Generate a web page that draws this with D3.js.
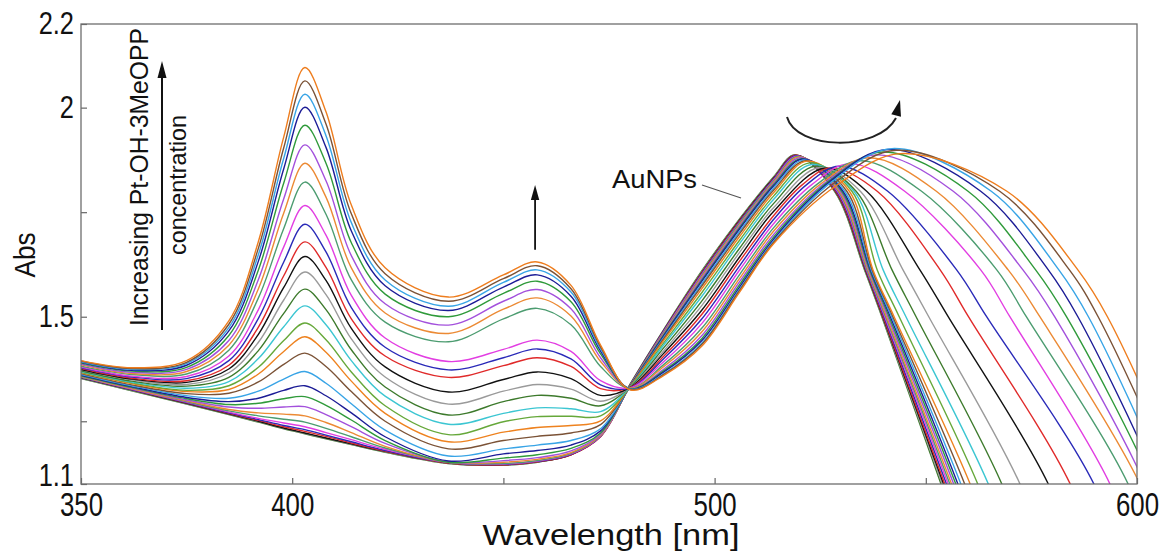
<!DOCTYPE html>
<html>
<head>
<meta charset="utf-8">
<script src="https://cdn.jsdelivr.net/npm/d3@7"></script>
<style>
  html, body { margin: 0; padding: 0; background: #fff; }
  svg { display: block; }
  text { font-family: "Liberation Sans", Arial, sans-serif; fill: #111; }
</style>
</head>
<body>
<svg id="chart" width="1163" height="552"></svg>
<script>
// ---- Data: 30 spectra, first = AuNPs alone, last = highest Pt-OH-3MeOPP ----
// Soret / Q-band part, read at fixed wavelengths
const waveLeft = [350, 362, 375, 385, 392, 398, 403, 408, 414, 422, 437, 450, 458, 466, 473, 480];
const absLeft = [
  [1.352,1.323,1.291,1.266,1.248,1.232,1.220,1.208,1.194,1.176,1.149,1.145,1.152,1.171,1.216,1.339],
  [1.353,1.324,1.292,1.267,1.249,1.233,1.221,1.209,1.195,1.177,1.149,1.145,1.152,1.170,1.215,1.338],
  [1.354,1.325,1.293,1.268,1.250,1.234,1.222,1.210,1.196,1.178,1.150,1.146,1.153,1.170,1.214,1.337],
  [1.355,1.326,1.294,1.269,1.252,1.237,1.226,1.214,1.198,1.179,1.150,1.146,1.153,1.170,1.213,1.336],
  [1.355,1.326,1.295,1.270,1.254,1.240,1.230,1.217,1.201,1.180,1.151,1.147,1.154,1.171,1.214,1.336],
  [1.356,1.327,1.296,1.272,1.257,1.246,1.237,1.223,1.206,1.183,1.152,1.148,1.155,1.172,1.215,1.335],
  [1.356,1.328,1.297,1.275,1.263,1.255,1.248,1.233,1.213,1.186,1.152,1.149,1.156,1.173,1.216,1.335],
  [1.357,1.328,1.299,1.278,1.270,1.267,1.263,1.247,1.223,1.190,1.152,1.152,1.159,1.175,1.217,1.335],
  [1.358,1.330,1.301,1.284,1.281,1.284,1.285,1.266,1.237,1.197,1.152,1.156,1.163,1.179,1.219,1.334],
  [1.359,1.331,1.304,1.290,1.293,1.304,1.309,1.288,1.253,1.204,1.152,1.162,1.170,1.185,1.222,1.334],
  [1.360,1.333,1.307,1.297,1.305,1.324,1.335,1.311,1.270,1.213,1.155,1.172,1.180,1.193,1.227,1.334],
  [1.362,1.335,1.311,1.305,1.322,1.351,1.369,1.341,1.292,1.229,1.167,1.184,1.193,1.204,1.232,1.333],
  [1.364,1.337,1.316,1.317,1.344,1.386,1.413,1.381,1.321,1.250,1.184,1.204,1.214,1.222,1.242,1.333],
  [1.366,1.340,1.321,1.326,1.363,1.417,1.452,1.415,1.346,1.269,1.201,1.224,1.235,1.240,1.251,1.333],
  [1.367,1.342,1.324,1.335,1.379,1.443,1.485,1.445,1.368,1.287,1.218,1.249,1.261,1.262,1.263,1.332],
  [1.369,1.344,1.329,1.345,1.400,1.476,1.526,1.481,1.395,1.310,1.243,1.269,1.282,1.280,1.273,1.332],
  [1.371,1.346,1.334,1.355,1.419,1.508,1.566,1.517,1.421,1.332,1.265,1.297,1.312,1.305,1.287,1.332],
  [1.373,1.349,1.338,1.366,1.439,1.540,1.607,1.553,1.447,1.356,1.291,1.322,1.338,1.327,1.298,1.331],
  [1.374,1.351,1.343,1.375,1.458,1.570,1.644,1.587,1.472,1.380,1.320,1.350,1.368,1.352,1.312,1.331],
  [1.376,1.353,1.347,1.384,1.475,1.598,1.679,1.618,1.495,1.406,1.355,1.383,1.402,1.381,1.328,1.331],
  [1.378,1.356,1.352,1.395,1.496,1.631,1.721,1.655,1.522,1.427,1.373,1.402,1.423,1.399,1.337,1.330],
  [1.380,1.358,1.357,1.406,1.517,1.667,1.766,1.695,1.551,1.449,1.393,1.422,1.444,1.417,1.347,1.330],
  [1.382,1.362,1.363,1.420,1.545,1.711,1.822,1.745,1.588,1.487,1.440,1.495,1.520,1.481,1.381,1.329],
  [1.385,1.364,1.369,1.432,1.567,1.748,1.867,1.786,1.617,1.509,1.460,1.518,1.545,1.502,1.393,1.329],
  [1.387,1.367,1.374,1.443,1.589,1.782,1.911,1.825,1.646,1.531,1.480,1.537,1.565,1.519,1.402,1.328],
  [1.389,1.370,1.379,1.455,1.612,1.820,1.958,1.867,1.677,1.554,1.500,1.556,1.585,1.536,1.411,1.328],
  [1.391,1.372,1.384,1.466,1.633,1.854,2.001,1.905,1.705,1.574,1.515,1.571,1.600,1.549,1.418,1.327],
  [1.392,1.374,1.388,1.474,1.649,1.879,2.032,1.933,1.725,1.588,1.525,1.582,1.612,1.559,1.423,1.327],
  [1.394,1.376,1.391,1.482,1.664,1.904,2.064,1.961,1.746,1.603,1.537,1.591,1.622,1.567,1.428,1.326],
  [1.395,1.378,1.395,1.490,1.680,1.930,2.096,1.990,1.767,1.617,1.547,1.600,1.631,1.575,1.432,1.325]
];

// rising side of the AuNP plasmon band
const waveSlope = [488, 497, 506, 514];
const absSlope = [
  [1.470,1.610,1.735,1.835], [1.469,1.608,1.733,1.833], [1.468,1.606,1.732,1.832],
  [1.467,1.605,1.730,1.830], [1.466,1.603,1.728,1.829], [1.465,1.601,1.726,1.827],
  [1.463,1.599,1.725,1.825], [1.461,1.596,1.721,1.822], [1.459,1.592,1.718,1.819],
  [1.457,1.588,1.714,1.816], [1.455,1.585,1.711,1.813], [1.451,1.579,1.705,1.808],
  [1.448,1.574,1.700,1.803], [1.444,1.567,1.693,1.797], [1.438,1.558,1.684,1.789],
  [1.433,1.549,1.676,1.781], [1.426,1.538,1.665,1.771], [1.419,1.527,1.655,1.761],
  [1.413,1.516,1.644,1.752], [1.406,1.506,1.634,1.742], [1.400,1.495,1.623,1.733],
  [1.393,1.484,1.613,1.723], [1.386,1.473,1.602,1.713], [1.381,1.464,1.593,1.705],
  [1.375,1.455,1.585,1.697], [1.371,1.448,1.578,1.691], [1.368,1.443,1.572,1.686],
  [1.364,1.437,1.567,1.681], [1.362,1.434,1.564,1.678], [1.360,1.430,1.560,1.675]
];

// extra point below the plasmon maximum (only where the band is red-shifted)
const sprShoulder = [
  null, null, null, null, null, null, null, null, null, null, null, null, null, null, null,
  null, null, null, null,
  [520.8,1.816], [521.8,1.816], [523.0,1.816], [524.3,1.817], [525.3,1.819], [526.2,1.821],
  [526.9,1.823], [527.5,1.825], [528.0,1.825], [528.5,1.821], [529.0,1.815]
];

// plasmon maximum [nm, Abs]
const sprPeak = [
  [519.0,1.887], [519.1,1.887], [519.2,1.886], [519.3,1.886], [519.4,1.885], [519.6,1.884],
  [519.8,1.883], [520.0,1.882], [520.3,1.880], [520.6,1.878], [520.9,1.877], [521.2,1.875],
  [521.6,1.873], [522.0,1.872], [522.5,1.868], [523.0,1.864], [523.8,1.860], [524.8,1.857],
  [526.0,1.855], [527.5,1.856], [529.5,1.860], [532.0,1.866], [534.5,1.873], [536.5,1.880],
  [538.3,1.887], [539.8,1.894], [541.0,1.900], [542.0,1.902], [543.0,1.898], [544.0,1.890]
];

// red flank: wavelength where each spectrum passes Abs 1.8, 1.612, 1.5 and 1.1
const flankAt18 = [528.4,528.5,528.6,528.7,528.9,529.1,529.3,529.5,529.8,530.1,530.4,530.8,531.3,531.9,532.5,
  533.0,533.5,534.5,536.0,538.5,541.0,545.0,549.0,552.5,556.5,560.0,563.0,565.5,567.5,569.2];
const flankAt16 = [535.5,535.6,535.7,535.8,535.9,536.0,536.1,536.3,536.5,536.7,536.9,537.1,537.3,537.5,538.5,
  539.9,542.0,544.6,548.6,553.4,557.3,563.0,566.8,569.5,573.0,576.0,579.0,581.5,584.0,586.0];
const flankAt15 = [539.6,539.7,539.8,539.9,540.1,540.3,540.5,540.7,541.0,541.3,541.6,541.9,542.2,542.5,543.7,
  545.3,547.7,550.7,555.3,560.1,564.4,569.9,573.8,577.0,580.5,583.3,586.0,588.5,590.8,593.0];
const flankAt11 = [553.6,553.9,554.2,554.5,554.9,555.3,555.7,556.1,556.6,557.1,557.6,558.3,559.2,560.5,562.3,
  564.8,568.0,572.3,579.0,584.2,589.8,593.6,597.9,600.7,601.9,603.7,605.1,606.9,609.0,611.0];

const lineColors = [
  '#3d7a2c', '#9a9a9a', '#111111', '#e02a2a', '#2a2ab8', '#e23ee2', '#4c9c70', '#ec8a34',
  '#a350dc', '#2f9a3a', '#1c1c96', '#38a4e6', '#7b5236', '#ee821f', '#66a83a', '#3cc6d2',
  '#3d7a2c', '#9a9a9a', '#111111', '#e02a2a', '#2a2ab8', '#e23ee2', '#4c9c70', '#ec8a34',
  '#a350dc', '#2f9a3a', '#1c1c96', '#38a4e6', '#7b5236', '#ee7d1e'
];

const xTicks = [350, 400, 450, 500, 550, 600];
const xTickLabels = [350, 400, 500, 600];
const yTicks = [1.1, 1.25, 1.5, 1.75, 2, 2.2];
const yTickLabels = [1.1, 1.5, 2, 2.2];

// ---- Layout ----
const svg = d3.select('#chart');
const margin = { left: 81, top: 24, right: 26, bottom: 68 };
const W = 1163, H = 552;
const innerW = W - margin.left - margin.right;
const innerH = H - margin.top - margin.bottom;

const x = d3.scaleLinear().domain([350, 600]).range([0, innerW]);
const y = d3.scaleLinear().domain([1.1, 2.2]).range([innerH, 0]);

const g = svg.append('g').attr('transform', `translate(${margin.left},${margin.top})`);

g.append('clipPath').attr('id', 'plotClip')
  .append('rect').attr('width', innerW).attr('height', innerH);

// ---- Spectra ----
function spectrumPoints(i) {
  const pts = waveLeft.map((w, j) => [w, absLeft[i][j]]);
  waveSlope.forEach((w, j) => pts.push([w, absSlope[i][j]]));
  if (sprShoulder[i]) pts.push(sprShoulder[i]);
  pts.push(sprPeak[i]);
  pts.push([flankAt18[i], 1.8], [flankAt16[i], 1.612], [flankAt15[i], 1.5],
           [flankAt11[i], 1.1], [flankAt11[i] + 9, 0.85]);
  return pts;
}

const line = d3.line()
  .x(d => x(d[0]))
  .y(d => y(d[1]))
  .curve(d3.curveCatmullRom.alpha(0.5));

g.append('g').attr('clip-path', 'url(#plotClip)')
  .selectAll('path')
  .data(d3.range(absLeft.length))
  .enter().append('path')
  .attr('d', i => line(spectrumPoints(i)))
  .attr('fill', 'none')
  .attr('stroke', i => lineColors[i])
  .attr('stroke-width', 1.4);

// ---- Axes ----
const yAxis = g.append('g')
  .call(d3.axisLeft(y).tickValues(yTicks).tickSizeInner(-6).tickSizeOuter(0).tickPadding(7)
    .tickFormat(d => yTickLabels.includes(d) ? String(d) : ''));
const xAxis = g.append('g')
  .attr('transform', `translate(0,${innerH})`)
  .call(d3.axisBottom(x).tickValues(xTicks).tickSizeInner(-6).tickSizeOuter(0).tickPadding(8)
    .tickFormat(d => xTickLabels.includes(d) ? String(d) : ''));

[yAxis, xAxis].forEach(a => {
  a.select('.domain').remove();
  a.selectAll('.tick line').attr('stroke', '#666').attr('stroke-width', 1.2);
  a.selectAll('.tick text').style('font-family', '"Liberation Sans", Arial, sans-serif').attr('fill', '#111');
});

// squeeze the labels horizontally to the narrow look of the original
const ySqueeze = 0.82, xSqueeze = 0.76;
yAxis.selectAll('.tick text')
  .style('font-size', '31px')
  .attr('x', -7 / ySqueeze)
  .attr('transform', `scale(${ySqueeze},1)`);
yAxis.selectAll('.tick text').filter(d => d === 1.1).attr('dy', '0.04em');
xAxis.selectAll('.tick text')
  .style('font-size', '34px')
  .attr('transform', `scale(${xSqueeze},1)`);

g.append('rect')
  .attr('width', innerW).attr('height', innerH)
  .attr('fill', 'none').attr('stroke', '#6e6e6e').attr('stroke-width', 1.3);

// ---- Axis titles ----
svg.append('text')
  .attr('transform', 'translate(35,255) rotate(-90)')
  .attr('text-anchor', 'middle')
  .style('font-size', '30px')
  .attr('textLength', 45).attr('lengthAdjust', 'spacingAndGlyphs')
  .text('Abs');

svg.append('text')
  .attr('x', 611).attr('y', 545)
  .attr('text-anchor', 'middle')
  .style('font-size', '30px')
  .attr('textLength', 257).attr('lengthAdjust', 'spacingAndGlyphs')
  .text('Wavelength [nm]');

// ---- Annotations ----
svg.append('text')
  .attr('transform', 'translate(148,177) rotate(-90)')
  .attr('text-anchor', 'middle')
  .style('font-size', '25px')
  .attr('textLength', 298).attr('lengthAdjust', 'spacingAndGlyphs')
  .text('Increasing Pt-OH-3MeOPP');
svg.append('text')
  .attr('transform', 'translate(186,185) rotate(-90)')
  .attr('text-anchor', 'middle')
  .style('font-size', '24px')
  .attr('textLength', 140).attr('lengthAdjust', 'spacingAndGlyphs')
  .text('concentration');

function arrowHead(tip, dir, len, half) {
  const n = Math.hypot(dir[0], dir[1]);
  const ux = dir[0] / n, uy = dir[1] / n;
  const bx = tip[0] - ux * len, by = tip[1] - uy * len;
  return `M${tip[0]},${tip[1]}L${bx - uy * half},${by + ux * half}L${bx + uy * half},${by - ux * half}Z`;
}

// concentration arrow (left)
svg.append('line').attr('x1', 162).attr('y1', 330).attr('x2', 162).attr('y2', 76)
  .attr('stroke', '#111').attr('stroke-width', 2);
svg.append('path').attr('d', arrowHead([162, 61], [0, -1], 17, 4.5)).attr('fill', '#111');

// up arrow over the 458 nm band
const ax = margin.left + x(457.5);
svg.append('line').attr('x1', ax).attr('y1', margin.top + y(1.66)).attr('x2', ax).attr('y2', margin.top + y(1.785))
  .attr('stroke', '#111').attr('stroke-width', 1.8);
svg.append('path').attr('d', arrowHead([ax, margin.top + y(1.815)], [0, -1], 15, 4.2)).attr('fill', '#111');

// curved arrow over the plasmon band (red shift)
svg.append('path')
  .attr('d', 'M787,117 C796,150 878,152 896,118')
  .attr('fill', 'none').attr('stroke', '#222').attr('stroke-width', 2);
svg.append('path').attr('d', arrowHead([900, 100], [4, -16], 16, 5)).attr('fill', '#111');

// AuNPs label with leader
svg.append('text')
  .attr('x', 612).attr('y', 188)
  .style('font-size', '25px')
  .attr('textLength', 85).attr('lengthAdjust', 'spacingAndGlyphs')
  .text('AuNPs');
svg.append('line').attr('x1', 702).attr('y1', 185).attr('x2', 741).attr('y2', 198)
  .attr('stroke', '#555').attr('stroke-width', 1.3);
</script>
</body>
</html>
